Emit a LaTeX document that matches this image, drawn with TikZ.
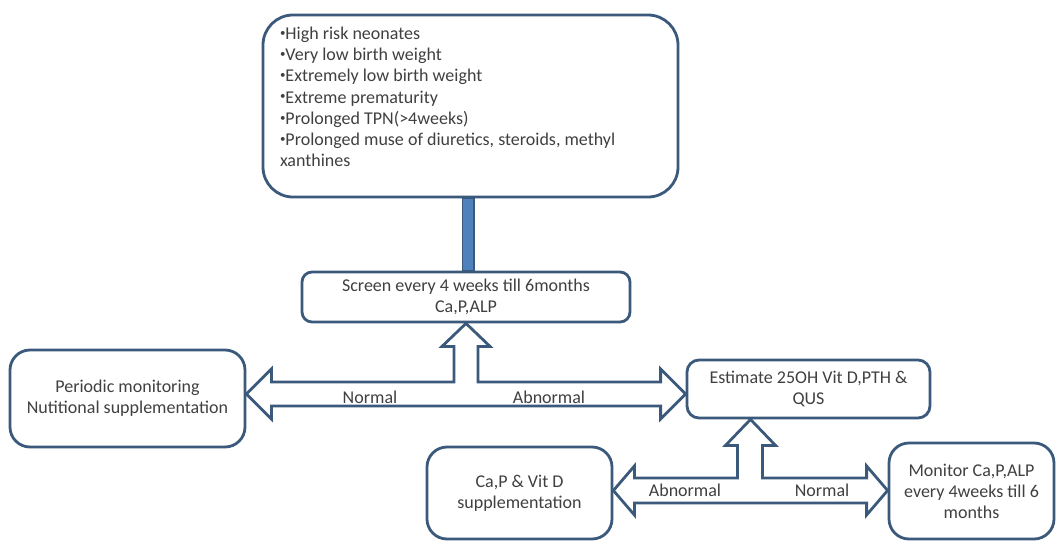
\documentclass[tikz,border=0pt]{standalone}
\usepackage{fontspec}
\setmainfont{Carlito}
\usetikzlibrary{calc}
\definecolor{edgeblue}{RGB}{59,89,122}
\definecolor{barblue}{RGB}{79,129,189}
\definecolor{inkgray}{RGB}{64,64,64}
\newcommand{\riskdot}{\raisebox{0.18em}{\fontsize{11}{11}\selectfont •}}
\tikzset{
	flowbox/.style={draw=edgeblue, line width=2.8pt, fill=white, rounded corners=14pt,
		align=center, text=inkgray, inner sep=0pt, font=\fontsize{18}{21}\selectfont},
	bandlabel/.style={text=inkgray, inner sep=0pt, font=\fontsize{18}{21}\selectfont},
	blockarrow/.style={draw=edgeblue, line width=2.8pt, fill=white, line join=miter}
}

\begin{document}
\begin{tikzpicture}[x=1pt, y=-1pt]
	\useasboundingbox (0,0) rectangle (1057,541);
\node[flowbox, rounded corners=30pt, minimum width=415pt, minimum height=182pt] (risk) at (470.5,106)
  {\begin{minipage}[c][158pt][t]{381pt}\raggedright\baselineskip=21.2pt
  \riskdot High risk neonates\\
  \riskdot Very low birth weight\\
  \riskdot Extremely low birth weight\\
  \riskdot Extreme prematurity\\
  \riskdot Prolonged TPN(>4weeks)\\
  \riskdot Prolonged muse of diuretics, steroids, methyl xanthines
  \end{minipage}};
\node[flowbox, rounded corners=10pt, minimum width=328pt, minimum height=50pt] (screen) at (466,297)
  {Screen every 4 weeks till 6months\\Ca,P,ALP};
\node[flowbox, rounded corners=20pt, minimum width=235pt, minimum height=97pt] (periodic) at (127.5,398.5)
  {Periodic monitoring\\Nutitional supplementation};
\node[flowbox, rounded corners=12pt, minimum width=243pt, minimum height=58pt] (estimate) at (808.5,389)
  {Estimate 25OH Vit D,PTH \&\\QUS};
\node[flowbox, rounded corners=20pt, minimum width=185pt, minimum height=92pt] (supplement) at (519.5,493)
  {Ca,P \& Vit D\\supplementation};
\node[flowbox, rounded corners=20pt, minimum width=165pt, minimum height=96pt] (monitor) at (971.5,491)
  {Monitor Ca,P,ALP\\every 4weeks till 6\\months};
\draw[draw=edgeblue, line width=1.5pt, fill=barblue] ($(risk.south)+(-8,0)$) rectangle ($(screen.north)+(8,0)$);
\coordinate (fork1) at (466,394);
\coordinate (fork2) at ($(estimate.south)+(-58,0)$);
\coordinate (band2) at (750,490.5);
\draw[blockarrow] (screen.south) -- ++(24,23) -- ++(-12,0) |- ($(estimate.west |- fork1)+(-25,-12)$)
  -- ++(0,-13) -- (estimate.west |- fork1) -- ++(-25,25) -- ++(0,-13)
  -- ($(periodic.east |- fork1)+(25,12)$) -- ++(0,13) -- (periodic.east |- fork1)
  -- ++(25,-25) -- ++(0,13) -| ($(screen.south)+(-12,23)$) -- ++(-12,0) -- cycle;
\draw[blockarrow] (fork2) -- ++(25,26) -- ++(-13,0) |- ($(monitor.west |- band2)+(-21,-12.5)$)
  -- ++(0,-12) -- (monitor.west |- band2) -- ++(-21,24.5) -- ++(0,-12)
  -- ($(supplement.east |- band2)+(21,12.5)$) -- ++(0,12) -- (supplement.east |- band2)
  -- ++(21,-24.5) -- ++(0,12) -| ($(fork2)+(-13,26)$) -- ++(-12,0) -- cycle;
\node[bandlabel] (normal1) at (370,397) {Normal};
\node[bandlabel] (abnormal1) at (549,397) {Abnormal};
\node[bandlabel] (abnormal2) at (685,490) {Abnormal};
\node[bandlabel] (normal2) at (822,490) {Normal};
\end{tikzpicture}
\end{document}
